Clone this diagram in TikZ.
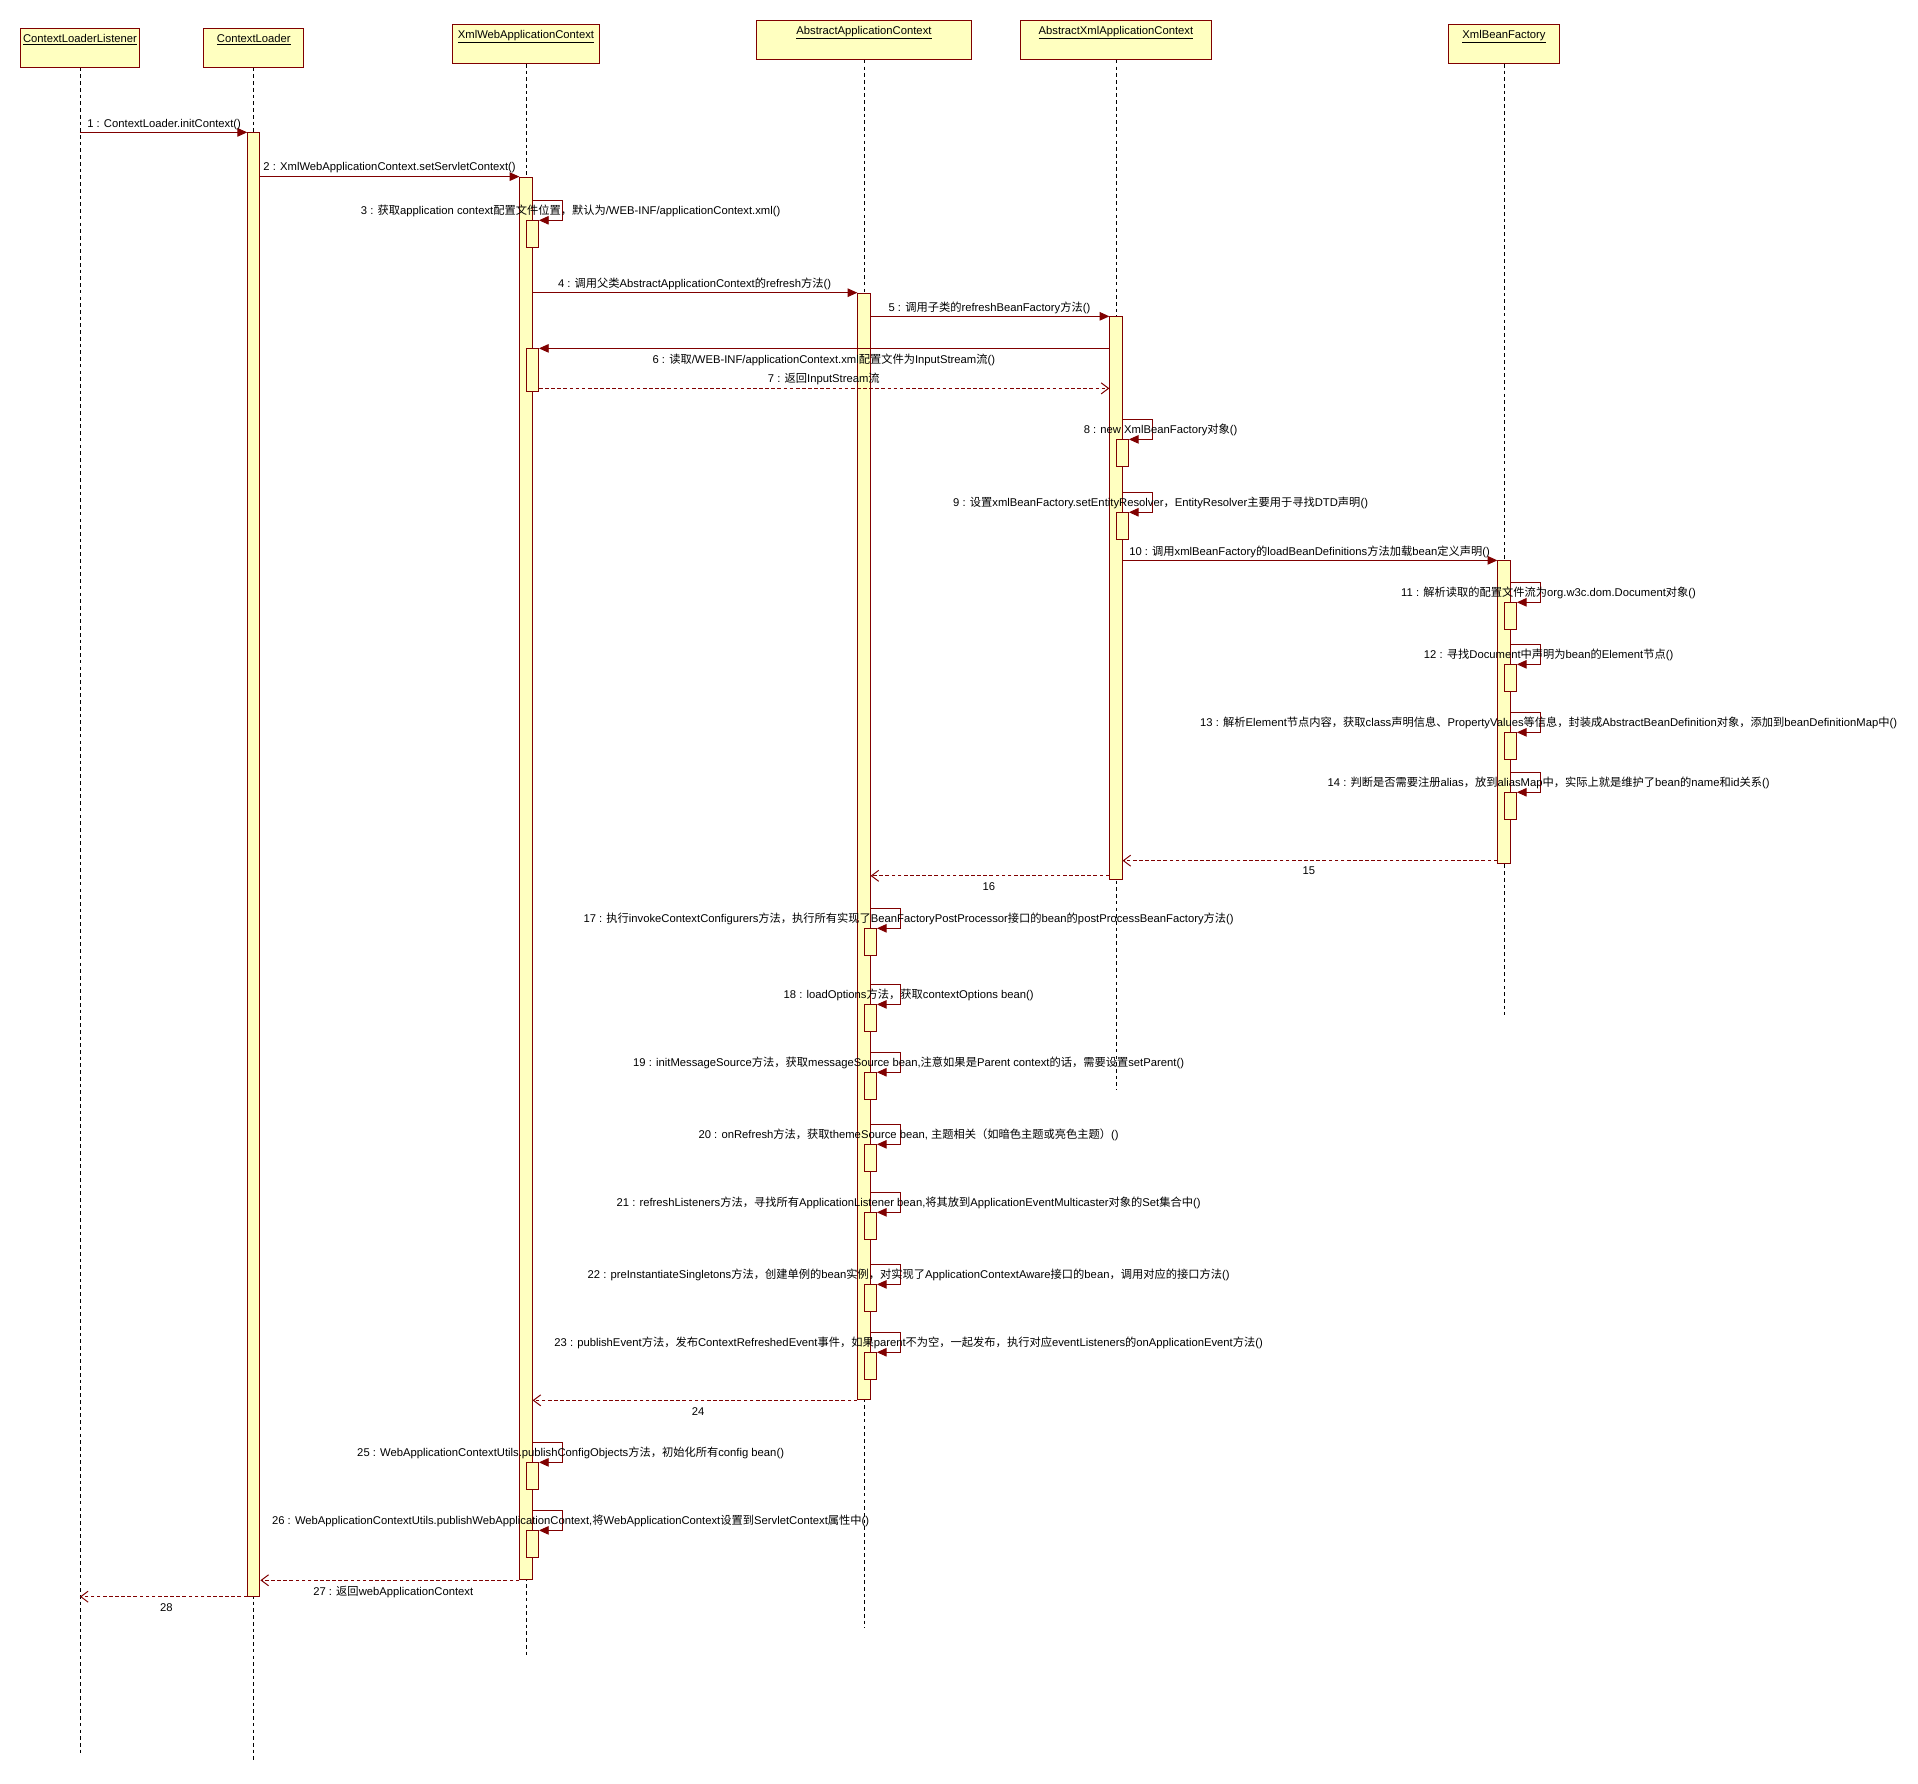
\documentclass[tikz,border=0pt]{standalone}
\usepackage{fontspec}
\setmainfont{Liberation Sans}
\newfontfamily\cjk{Noto Sans CJK SC}
\usetikzlibrary{arrows.meta}
\XeTeXinterchartokenstate=1
\newXeTeXintercharclass\CJKcls
\makeatletter
\count@="4E00
\loop\XeTeXcharclass\count@=\CJKcls\advance\count@ by 1\ifnum\count@<"A000\repeat
\makeatother
\XeTeXcharclass"FF0C=\CJKcls
\XeTeXcharclass"FF08=\CJKcls
\XeTeXcharclass"FF09=\CJKcls
\XeTeXcharclass"3001=\CJKcls
\XeTeXinterchartoks 0 \CJKcls = {\cjk}
\XeTeXinterchartoks 4095 \CJKcls = {\cjk}
\XeTeXinterchartoks \CJKcls 0 = {\rmfamily}
\XeTeXinterchartoks \CJKcls 4095 = {\rmfamily}
\definecolor{maroon}{RGB}{128,0,0}
\definecolor{actfill}{RGB}{255,255,192}
\tikzset{
  head/.style={draw=maroon, fill=actfill, line width=0.8pt, inner sep=0pt, rectangle},
  headtxt/.style={inner sep=0pt, text height=6.6pt, text depth=0pt, font=\fontsize{9.2pt}{11pt}\selectfont},
  life/.style={draw=black, line width=0.7pt, dash pattern=on 3pt off 2.5pt},
  act/.style={draw=maroon, fill=actfill, line width=0.8pt, inner sep=0pt, minimum width=10pt, anchor=north, rectangle},
  nest/.style={act, minimum height=22.1pt},
  msg/.style={draw=maroon, line width=0.8pt, -{Triangle[length=8pt,width=7pt,fill=maroon]}},
  ret/.style={draw=maroon, line width=0.8pt, dash pattern=on 3pt off 2pt, -{Straight Barb[length=6pt,width=9pt]}},
  lbl/.style={inner sep=0pt, text height=6.6pt, text depth=0pt, anchor=center, font=\fontsize{9.2pt}{11pt}\selectfont}
}
\begin{document}
\begin{tikzpicture}[x=1pt, y=-1pt]
\useasboundingbox[fill=white] (0,0) rectangle (1568,1458);
% heads
\node[head, minimum width=96.8pt, minimum height=31.8pt] (h1) at (65.4,39.1) {};
\node[head, minimum width=81.5pt, minimum height=31.8pt] (h2) at (207.5,39.1) {};
\node[head, minimum width=120.5pt, minimum height=31.9pt] (h3) at (430,35.85) {};
\node[head, minimum width=175.9pt, minimum height=31.9pt] (h4) at (706.3,32.55) {};
\node[head, minimum width=156.2pt, minimum height=31.9pt] (h5) at (912.3,32.55) {};
\node[head, minimum width=91.5pt, minimum height=31.9pt] (h6) at (1229.5,35.85) {};
\node[headtxt, yshift=-8.7pt] (t1) at (h1.north) {\underline{ContextLoaderListener}};
\node[headtxt, yshift=-8.7pt] (t2) at (h2.north) {\underline{ContextLoader}};
\node[headtxt, yshift=-8.7pt] (t3) at (h3.north) {\underline{XmlWebApplicationContext}};
\node[headtxt, yshift=-8.7pt] (t4) at (h4.north) {\underline{AbstractApplicationContext}};
\node[headtxt, yshift=-8.7pt] (t5) at (h5.north) {\underline{AbstractXmlApplicationContext}};
\node[headtxt, yshift=-8.7pt] (t6) at (h6.north) {\underline{XmlBeanFactory}};
% lifelines
\coordinate (e1) at (65.4,1435.6);
\coordinate (e2) at (207.5,1441);
\coordinate (e3) at (430,1353);
\coordinate (e4) at (706.3,1331.2);
\coordinate (e5) at (912.3,890.6);
\coordinate (e6) at (1229.5,830);
\draw[life] (h1.south) -- (e1);
\draw[life] (h2.south) -- (e2);
\draw[life] (h3.south) -- (e3);
\draw[life] (h4.south) -- (e4);
\draw[life] (h5.south) -- (e5);
\draw[life] (h6.south) -- (e6);
% activations
\node[act, minimum height=1196.3pt] (a2) at (207.5,108.2) {};
\node[act, minimum height=1146.7pt] (a3) at (430,144.4) {};
\node[act, minimum height=904.7pt] (a4) at (706.3,239.3) {};
\node[act, minimum height=460pt] (a5) at (912.3,258.6) {};
\node[act, minimum height=247.7pt] (a6) at (1229.5,458.1) {};
% nested activations
\node[nest] (n3) at (435.2,180.1) {};
\node[act, minimum height=35.1pt] (n6) at (435.2,284.8) {};
\node[nest] (n8) at (917.5,359.2) {};
\node[nest] (n9) at (917.5,418.8) {};
\node[nest] (n11) at (1234.7,492.4) {};
\node[nest] (n12) at (1234.7,543.1) {};
\node[nest] (n13) at (1234.7,598.7) {};
\node[nest] (n14) at (1234.7,647.7) {};
\node[nest] (n17) at (711.5,758.9) {};
\node[nest] (n18) at (711.5,821.1) {};
\node[nest] (n19) at (711.5,876.6) {};
\node[nest] (n20) at (711.5,935.5) {};
\node[nest] (n21) at (711.5,991.1) {};
\node[nest] (n22) at (711.5,1050) {};
\node[nest] (n23) at (711.5,1105.5) {};
\node[nest] (n25) at (435.2,1195.5) {};
\node[nest] (n26) at (435.2,1251.1) {};
% loop corners and return levels
\coordinate (s3) at (460,163.8);
\coordinate (s8) at (942.3,342.8);
\coordinate (s9) at (942.3,402.5);
\coordinate (s11) at (1259.5,476.1);
\coordinate (s12) at (1259.5,526.8);
\coordinate (s13) at (1259.5,582.3);
\coordinate (s14) at (1259.5,631.4);
\coordinate (s17) at (736.3,742.6);
\coordinate (s18) at (736.3,804.7);
\coordinate (s19) at (736.3,860.3);
\coordinate (s20) at (736.3,919.2);
\coordinate (s21) at (736.3,974.8);
\coordinate (s22) at (736.3,1033.6);
\coordinate (s23) at (736.3,1089.2);
\coordinate (s25) at (460,1179.1);
\coordinate (s26) at (460,1234.7);
\coordinate (y7) at (0,317.5);
\coordinate (y15) at (0,703.6);
\coordinate (y16) at (0,716);
% messages
\draw[msg] (h1.south |- a2.north) -- (a2.north west);
\draw[msg] (a2.east |- a3.north) -- (a3.north west);
\draw[msg] (a3.east |- s3) -- (s3) |- (n3.north east);
\draw[msg] (a3.east |- a4.north) -- (a4.north west);
\draw[msg] (a4.east |- a5.north) -- (a5.north west);
\draw[msg] (a5.west |- n6.north) -- (n6.north east);
\draw[ret] (n6.east |- y7) -- (a5.west |- y7);
\draw[msg] (a5.east |- s8) -- (s8) |- (n8.north east);
\draw[msg] (a5.east |- s9) -- (s9) |- (n9.north east);
\draw[msg] (a5.east |- a6.north) -- (a6.north west);
\draw[msg] (a6.east |- s11) -- (s11) |- (n11.north east);
\draw[msg] (a6.east |- s12) -- (s12) |- (n12.north east);
\draw[msg] (a6.east |- s13) -- (s13) |- (n13.north east);
\draw[msg] (a6.east |- s14) -- (s14) |- (n14.north east);
\draw[ret] (a6.west |- y15) -- (a5.east |- y15);
\draw[ret] (a5.west |- y16) -- (a4.east |- y16);
\draw[msg] (a4.east |- s17) -- (s17) |- (n17.north east);
\draw[msg] (a4.east |- s18) -- (s18) |- (n18.north east);
\draw[msg] (a4.east |- s19) -- (s19) |- (n19.north east);
\draw[msg] (a4.east |- s20) -- (s20) |- (n20.north east);
\draw[msg] (a4.east |- s21) -- (s21) |- (n21.north east);
\draw[msg] (a4.east |- s22) -- (s22) |- (n22.north east);
\draw[msg] (a4.east |- s23) -- (s23) |- (n23.north east);
\draw[ret] (a4.south west) -- (a3.east |- a4.south);
\draw[msg] (a3.east |- s25) -- (s25) |- (n25.north east);
\draw[msg] (a3.east |- s26) -- (s26) |- (n26.north east);
\draw[ret] (a3.south west) -- (a2.east |- a3.south);
\draw[ret] (a2.south west) -- (h1.south |- a2.south);
% labels
\node[lbl] (l1) at (134.2,100.8) {1 : ContextLoader.initContext()};
\node[lbl] (l2) at (318.5,136.3) {2 : XmlWebApplicationContext.setServletContext()};
\node[lbl] (l3) at (466.5,172.3) {3 : 获取application context配置文件位置，默认为/WEB-INF/applicationContext.xml()};
\node[lbl] (l4) at (567.8,231.5) {4 : 调用父类AbstractApplicationContext的refresh方法()};
\node[lbl] (l5) at (808.9,251.2) {5 : 调用子类的refreshBeanFactory方法()};
\node[lbl] (l6) at (673.5,293.8) {6 : 读取/WEB-INF/applicationContext.xml配置文件为InputStream流()};
\node[lbl] (l7) at (673.5,309.8) {7 : 返回InputStream流};
\node[lbl] (l8) at (948.8,351.3) {8 : new XmlBeanFactory对象()};
\node[lbl] (l9) at (948.8,411) {9 : 设置xmlBeanFactory.setEntityResolver，EntityResolver主要用于寻找DTD声明()};
\node[lbl] (l10) at (1070.6,450.5) {10 : 调用xmlBeanFactory的loadBeanDefinitions方法加载bean定义声明()};
\node[lbl] (l11) at (1266,484.6) {11 : 解析读取的配置文件流为org.w3c.dom.Document对象()};
\node[lbl] (l12) at (1266,535.3) {12 : 寻找Document中声明为bean的Element节点()};
\node[lbl] (l13) at (1266,590.8) {13 : 解析Element节点内容，获取class声明信息、PropertyValues等信息，封装成AbstractBeanDefinition对象，添加到beanDefinitionMap中()};
\node[lbl] (l14) at (1266,639.9) {14 : 判断是否需要注册alias，放到aliasMap中，实际上就是维护了bean的name和id关系()};
\node[lbl] (l15) at (1070,712) {15};
\node[lbl] (l16) at (808.5,724.9) {16};
\node[lbl] (l17) at (742.8,751.1) {17 : 执行invokeContextConfigurers方法，执行所有实现了BeanFactoryPostProcessor接口的bean的postProcessBeanFactory方法()};
\node[lbl] (l18) at (742.8,813.2) {18 : loadOptions方法，获取contextOptions bean()};
\node[lbl] (l19) at (742.8,868.8) {19 : initMessageSource方法，获取messageSource bean,注意如果是Parent context的话，需要设置setParent()};
\node[lbl] (l20) at (742.8,927.7) {20 : onRefresh方法，获取themeSource bean, 主题相关（如暗色主题或亮色主题）()};
\node[lbl] (l21) at (742.8,983.3) {21 : refreshListeners方法，寻找所有ApplicationListener bean,将其放到ApplicationEventMulticaster对象的Set集合中()};
\node[lbl] (l22) at (742.8,1042.1) {22 : preInstantiateSingletons方法，创建单例的bean实例，对实现了ApplicationContextAware接口的bean，调用对应的接口方法()};
\node[lbl] (l23) at (742.8,1097.7) {23 : publishEvent方法，发布ContextRefreshedEvent事件，如果parent不为空，一起发布，执行对应eventListeners的onApplicationEvent方法()};
\node[lbl] (l24) at (570.7,1153.5) {24};
\node[lbl] (l25) at (466.5,1187.6) {25 : WebApplicationContextUtils.publishConfigObjects方法，初始化所有config bean()};
\node[lbl] (l26) at (466.5,1243.2) {26 : WebApplicationContextUtils.publishWebApplicationContext,将WebApplicationContext设置到ServletContext属性中()};
\node[lbl] (l27) at (321.5,1300.7) {27 : 返回webApplicationContext};
\node[lbl] (l28) at (136.1,1313.8) {28};
\end{tikzpicture}
\end{document}
